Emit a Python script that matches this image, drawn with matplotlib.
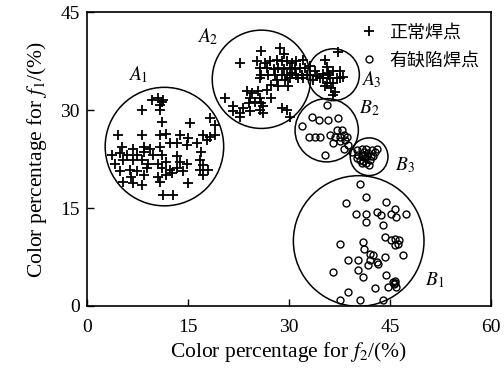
import matplotlib
matplotlib.use("Agg")
import matplotlib.pyplot as plt
from matplotlib.patches import Ellipse

plt.rcParams['font.family'] = ['Liberation Serif', 'Noto Sans CJK SC', 'DejaVu Sans']
plt.rcParams['mathtext.fontset'] = 'stix'

# ---- data ----
A1 = [(9.6,31.5),(10.6,31.8),(11.1,31.3),(11.3,31.5),(10.85,30.8),(8.1,30.0),(10.85,30.0),
      (11.1,28.2),(15.3,28.0),(18.3,28.7),(19.0,27.7),
      (4.65,26.2),(8.1,26.2),(10.85,26.2),(11.8,26.4),(13.8,26.2),(15.05,25.7),(17.3,26.2),(18.3,25.9),(19.0,26.2),
      (5.15,24.4),(6.9,24.1),(8.4,24.4),(9.4,24.1),(10.85,24.4),(12.3,24.9),(13.3,24.9),(14.8,24.6),(16.3,24.9),(17.8,25.4),
      (3.66,23.1),(4.9,23.4),(5.9,23.1),(7.4,23.1),(8.4,23.6),(9.85,23.1),(11.1,23.1),(13.3,22.9),(17.0,23.6),
      (4.16,21.8),(5.4,22.4),(6.9,22.4),(8.1,22.4),(9.1,21.8),(10.6,21.8),(11.8,22.1),(13.8,22.1),(14.8,21.8),(16.8,22.4),(17.3,21.6),
      (4.9,20.6),(6.4,20.8),(7.4,20.6),(8.9,21.1),(11.1,21.1),(12.3,20.8),(13.3,21.1),(14.3,20.6),(16.8,20.8),(18.0,20.8),
      (6.6,19.8),(8.4,20.1),(10.6,19.8),(11.8,20.1),(12.6,20.3),(17.3,20.1),
      (5.4,19.0),(6.9,18.8),(8.1,18.5),(10.85,19.0),(15.05,18.8),
      (11.3,17.0),(12.8,17.0)]
A2 = [(25.9,39.0),(28.7,39.5),(29.2,38.5),(22.7,37.2),(25.2,37.45),(26.4,37.2),(27.2,37.45),(28.2,37.7),(28.9,37.45),(29.7,37.45),(30.4,37.2),(31.1,37.45),(32.1,37.7),
      (25.7,36.4),(26.7,36.4),(27.7,36.2),(28.4,36.4),(29.2,36.2),(30.1,36.4),(30.9,36.2),(31.6,36.4),(32.4,36.4),(33.1,36.7),
      (25.9,35.4),(26.9,35.4),(27.9,35.4),(28.9,35.4),(29.7,35.4),(30.4,35.7),(31.1,35.4),(31.9,35.4),(32.6,35.4),(33.1,35.4),
      (25.7,34.9),(28.2,34.6),(29.4,34.6),(30.1,34.9),(31.4,34.9),(32.1,34.9),
      (27.4,33.9),(28.4,33.6),(29.9,33.6),
      (26.7,33.1),(23.7,32.9),(24.5,32.6),(25.4,32.9),
      (24.2,31.85),(25.7,31.85),(27.4,31.85),
      (20.5,31.85),(24.0,31.1),(25.0,31.3),(25.9,31.1),(26.2,30.6),
      (21.7,30.6),(23.2,30.3),(25.7,30.05),(28.9,30.3),(29.7,30.05),
      (21.7,29.8),(22.7,29.5),(24.2,29.8),(26.2,29.5),
      (22.7,29.0),(30.1,29.0)]
A3 = [(37.3,38.9),(35.3,37.7),(35.6,36.6),(35.8,35.6),(36.6,35.9),(35.1,34.85),(36.1,34.85),(37.1,34.85),(37.6,34.85),
      (35.6,34.1),(36.6,34.1),(34.6,34.85),(36.3,33.3),(36.8,32.8),(36.6,32.3),(35.3,33.6),
      (36.0,35.3),(35.0,35.5),(37.5,36.0),(38.0,35.0),(33.8,35.9),(34.2,35.2),(33.6,34.6)]
B2 = [(35.6,30.8),(33.4,29.0),(34.4,28.5),(35.8,28.5),(37.3,28.7),(31.9,27.5),(32.9,25.9),(33.9,25.9),(34.6,25.9),
      (36.1,26.2),(37.1,26.9),(37.8,26.9),(36.8,25.9),(37.6,25.9),(38.1,26.2),(38.6,25.9),(36.6,24.9),(37.6,25.2),
      (38.3,25.4),(35.35,23.1),(38.1,24.1),(38.8,24.65)]
B3 = [(40.05,23.9),(40.8,24.1),(41.5,24.1),(42.3,23.9),(42.8,23.6),(40.3,23.1),(41.0,23.1),(41.8,23.4),(42.5,22.9),
      (40.55,22.35),(41.3,22.6),(42.0,22.35),(40.8,21.85),(41.5,21.85),(40.05,22.6),(43.0,24.1),(39.3,23.6),
      (41.2,23.5),(41.6,22.9),(40.9,22.9),(42.2,23.0),(41.0,22.2),(41.9,21.6)]
B1 = [(40.5,18.6),(41.5,16.7),(38.5,15.7),(44.45,15.9),(45.7,14.9),(40.0,14.1),(41.5,14.1),(43.0,14.4),(43.7,13.9),
      (45.2,14.1),(45.9,13.6),(47.4,14.1),(41.5,12.9),(44.0,12.35),(44.2,10.6),(45.2,10.05),(45.7,10.3),(46.4,10.05),
      (45.7,9.3),(46.2,9.5),(46.9,7.8),(37.5,9.5),(41.0,9.8),(41.2,8.8),(42.0,8.0),(42.5,7.8),(44.2,7.5),(38.8,7.0),
      (40.25,7.0),(42.0,7.0),(43.0,6.7),(41.7,6.2),(43.2,6.5),(40.25,5.5),(41.0,4.4),(36.5,5.2),(44.45,4.7),(44.7,2.9),
      (45.7,3.9),(45.9,2.9),(38.8,2.15),(42.7,2.7),(37.5,0.9),(40.5,0.9),(44.0,0.9),(45.6,3.3),(45.8,3.5),(45.5,3.6)]

circle_names = ['A1', 'A2', 'A3', 'B1', 'B2', 'B3']
circle_cx = [11.5, 25.9, 36.6, 40.35, 35.6, 41.9]
circle_cy = [24.4, 34.7, 35.4, 9.95, 26.9, 22.85]
circle_r = [8.8, 7.3, 3.85, 9.7, 4.7, 2.8]

x_ticks = [0, 15, 30, 45, 60]
y_ticks = [0, 15, 30, 45]
legend_labels = ['正常焊点', '有缺陷焊点']

# ---- figure ----
W, H = 5.04, 3.72
fig = plt.figure(figsize=(W, H), dpi=100)
pos = [87/504, 1-306/372, (491-87)/504, (306-12)/372]
ax = fig.add_axes(pos)
ax.set_xlim(0, 60)
ax.set_ylim(0, 45)

normal = A1 + A2 + A3
defect = B1 + B2 + B3
ax.plot([p[0] for p in normal], [p[1] for p in normal], linestyle='none', marker='+',
        color='black', markersize=7.5, markeredgewidth=1.3, label=legend_labels[0])
ax.plot([p[0] for p in defect], [p[1] for p in defect], linestyle='none', marker='o',
        markerfacecolor='none', markeredgecolor='black', markersize=5, markeredgewidth=1.0,
        label=legend_labels[1])

# circles: convert x-radius into y units so they look round
xpx = pos[2]*W*100/60
ypx = pos[3]*H*100/45
ratio = xpx/ypx
for cx, cy, r in zip(circle_cx, circle_cy, circle_r):
    ax.add_patch(Ellipse((cx, cy), 2*r, 2*r*ratio, fill=False, edgecolor='black', linewidth=1.1))

lab_pos = {'A1': (7.6, 35.4), 'A2': (18.0, 41.3), 'A3': (42.3, 34.6),
           'B2': (42.0, 30.3), 'B3': (47.2, 21.6), 'B1': (51.7, 4.0)}
for n in circle_names:
    x, y = lab_pos[n]
    ax.text(x, y, r'$%s_%s$' % (n[0], n[1]), fontsize=14, ha='center', va='center')

ax.set_xticks(x_ticks)
ax.set_yticks(y_ticks)
ax.tick_params(direction='in', length=5, width=1.0, labelsize=14, top=False, right=False)
ax.tick_params(axis='x', pad=9)
ax.tick_params(axis='y', pad=5)
for s in ax.spines.values():
    s.set_linewidth(1.2)

ax.set_xlabel(r'Color percentage for $f_2$/(%)', fontsize=15.5, labelpad=3)
ax.set_ylabel(r'Color percentage for $f_1$/(%)', fontsize=15.5, labelpad=8)

leg = ax.legend(loc='upper right', bbox_to_anchor=(1.0, 1.0), frameon=False,
                handlelength=1.0, handletextpad=0.6, labelspacing=0.55, borderaxespad=0.25,
                prop={'family': ['Noto Sans CJK SC'], 'size': 13})

fig.savefig('out.png', dpi=100)
